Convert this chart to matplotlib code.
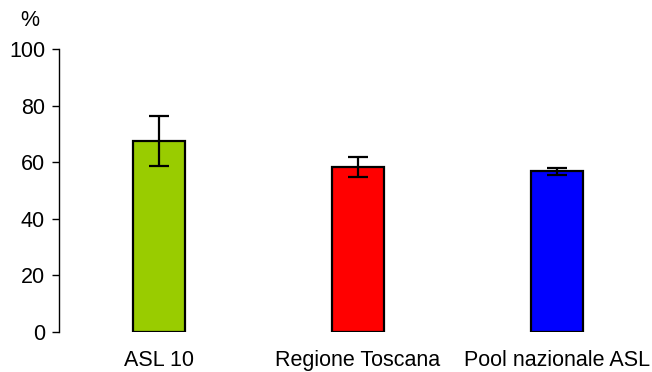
import matplotlib
matplotlib.use('Agg')
import matplotlib.pyplot as plt

# Data
categories = ['ASL 10', 'Regione Toscana', 'Pool nazionale ASL']
values = [67.5, 58.2, 56.8]
errors = [8.9, 3.6, 1.2]
colors = ['#99cc00', '#ff0000', '#0000ff']
yticks = [0, 20, 40, 60, 80, 100]

matplotlib.rc('font', family='Liberation Sans', size=15.5)

fig = plt.figure(figsize=(6.52, 3.72), dpi=100)
ax = fig.add_axes([59 / 652, 1 - 332 / 372, 1 - 59 / 652, (332 - 49) / 372])

x = range(len(categories))
ax.bar(x, values, width=0.261, color=colors, edgecolor='black', linewidth=1.6,
       zorder=2)
ax.errorbar(x, values, yerr=errors, fmt='none', ecolor='black',
            elinewidth=1.6, capsize=7.5, capthick=1.6, zorder=3)

ax.set_xlim(-0.5025, 2.477)
ax.set_ylim(0, 100)
ax.set_yticks(yticks)
ax.set_xticks(list(x))
ax.set_xticklabels(categories)
ax.tick_params('x', length=0, pad=13)
ax.tick_params('y', direction='out', length=5, width=1, pad=5)
for s in ['top', 'right', 'bottom']:
    ax.spines[s].set_visible(False)
ax.spines['left'].set_linewidth(1)

fig.text(30 / 652, 1 - 20 / 372, '%', ha='center', va='center')

plt.savefig('out.png')
